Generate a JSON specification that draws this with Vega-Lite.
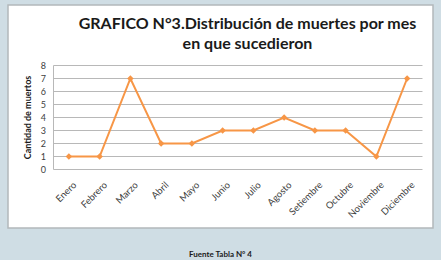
{
  "$schema": "https://vega.github.io/schema/vega-lite/v6.json",
  "width": 425,
  "height": 223,
  "autosize": {"type": "none"},
  "padding": {"left": 8, "top": 5, "right": 8, "bottom": 32},
  "background": "#cfdde4",
  "config": {
    "view": {"fill": "#ffffff", "stroke": "#b3b8bb", "strokeWidth": 1.5},
    "font": "Lato",
    "axis": {"labelOverlap": false}
  },
  "title": {
    "text": ["GRAFICO N°3.Distribución de muertes por mes", "en que sucedieron"],
    "anchor": "middle",
    "offset": -47,
    "dx": 27,
    "font": "Lato",
    "fontSize": 16,
    "fontWeight": "bold",
    "color": "#1a1a1a",
    "lineHeight": 20
  },
  "datasets": {
    "meses": [
      {"i": 0, "mes": "Enero", "muertes": 1},
      {"i": 1, "mes": "Febrero", "muertes": 1},
      {"i": 2, "mes": "Marzo", "muertes": 7},
      {"i": 3, "mes": "Abril", "muertes": 2},
      {"i": 4, "mes": "Mayo", "muertes": 2},
      {"i": 5, "mes": "Junio", "muertes": 3},
      {"i": 6, "mes": "Julio", "muertes": 3},
      {"i": 7, "mes": "Agosto", "muertes": 4},
      {"i": 8, "mes": "Setiembre", "muertes": 3},
      {"i": 9, "mes": "Octubre", "muertes": 3},
      {"i": 10, "mes": "Noviembre", "muertes": 1},
      {"i": 11, "mes": "Diciembre", "muertes": 7}
    ],
    "niveles": [
      {"v": 0}, {"v": 1}, {"v": 2}, {"v": 3}, {"v": 4}, {"v": 5}, {"v": 6}, {"v": 7}, {"v": 8}
    ]
  },
  "layer": [
    {
      "data": {"name": "niveles"},
      "mark": {"type": "rule", "color": "#b8b8b8", "strokeWidth": 1},
      "encoding": {
        "y": {"field": "v", "type": "quantitative",
          "scale": {"domain": [-4.5, 12.654], "nice": false, "zero": false},
          "axis": {
            "values": [0, 1, 2, 3, 4, 5, 6, 7, 8],
            "tickCount": 20,
            "offset": -45.5,
            "domain": false, "ticks": false, "grid": false,
            "labelOverlap": false,
            "labelPadding": 8, "labelFontSize": 9, "labelColor": "#404040",
            "title": "Cantidad de muertos",
            "titleFontSize": 9, "titleFontWeight": "bold", "titleColor": "#1a1a1a",
            "titleX": -26, "titleY": 112, "titleBaseline": "middle", "titleAlign": "center", "titleAngle": -90
          }
        },
        "x": {"datum": -0.5, "type": "quantitative"},
        "x2": {"datum": 11.5}
      }
    },
    {
      "data": {"values": [{"a": 0, "b": 8}]},
      "mark": {"type": "rule", "color": "#b8b8b8", "strokeWidth": 1},
      "encoding": {
        "x": {"datum": -0.5, "type": "quantitative"},
        "y": {"field": "a", "type": "quantitative"},
        "y2": {"field": "b"}
      }
    },
    {
      "data": {"name": "meses"},
      "mark": {"type": "line", "color": "#f79646", "strokeWidth": 2,
        "point": {"shape": "diamond", "size": 42, "filled": true, "color": "#f79646"}},
      "encoding": {
        "x": {"field": "i", "type": "quantitative",
          "scale": {"domain": [-1.9797, 11.8415], "nice": false, "zero": false},
          "axis": {
            "values": [0, 1, 2, 3, 4, 5, 6, 7, 8, 9, 10, 11],
            "tickCount": 20,
            "labelExpr": "['Enero','Febrero','Marzo','Abril','Mayo','Junio','Julio','Agosto','Setiembre','Octubre','Noviembre','Diciembre'][datum.value]",
            "offset": -58.5,
            "domain": false, "ticks": false, "grid": false,
            "labelAngle": -45, "labelAlign": "right", "labelBaseline": "top",
            "labelPadding": 10, "labelOffset": 2, "labelFontSize": 9.5, "labelColor": "#404040",
            "labelOverlap": false, "labelBound": false, "labelFlush": false,
            "title": "Fuente Tabla N° 4",
            "titleFontSize": 8, "titleFontWeight": "bold", "titleColor": "#1a1a1a",
            "titleX": 212, "titleY": 85, "titleBaseline": "middle", "titleAlign": "center"
          }
        },
        "y": {"field": "muertes", "type": "quantitative"}
      }
    }
  ]
}
